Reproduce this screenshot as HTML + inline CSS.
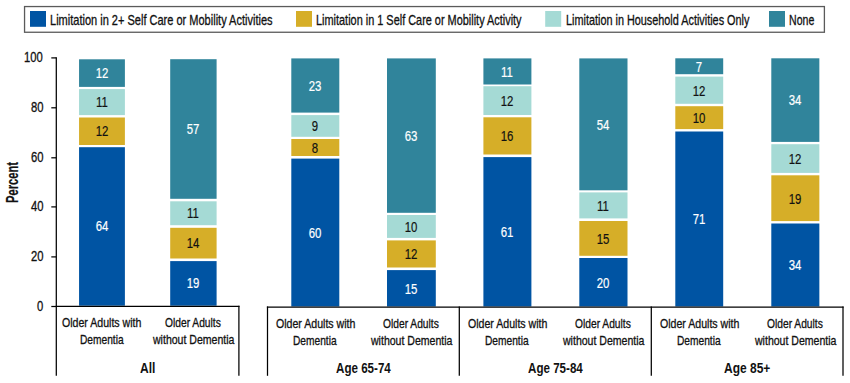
<!DOCTYPE html>
<html><head><meta charset="utf-8"><style>
html,body{margin:0;padding:0;background:#fff;}
body{width:850px;height:383px;position:relative;overflow:hidden;font-family:'Liberation Sans', sans-serif;}
</style></head><body>
<svg style="position:absolute;left:0;top:0" width="850" height="383" viewBox="0 0 850 383"><rect x="24.55" y="6.55" width="799.85" height="25.7" fill="none" stroke="#5a5a5a" stroke-width="1.3"/><rect x="30.00" y="11.00" width="16.00" height="15.80" fill="#0054a3"/><rect x="296.00" y="11.00" width="16.00" height="15.80" fill="#d6ae28"/><rect x="545.20" y="11.00" width="16.00" height="15.80" fill="#a5dad5"/><rect x="769.00" y="11.00" width="16.00" height="15.80" fill="#30849b"/><rect x="79.06" y="59.30" width="45.84" height="27.60" fill="#30849b"/><rect x="79.06" y="89.10" width="45.84" height="26.00" fill="#a5dad5"/><rect x="79.06" y="117.50" width="45.84" height="27.50" fill="#d6ae28"/><rect x="79.06" y="147.20" width="45.84" height="158.50" fill="#0054a3"/><rect x="170.20" y="59.20" width="46.40" height="139.60" fill="#30849b"/><rect x="170.20" y="201.30" width="46.40" height="23.90" fill="#a5dad5"/><rect x="170.20" y="227.80" width="46.40" height="30.70" fill="#d6ae28"/><rect x="170.20" y="261.10" width="46.40" height="44.60" fill="#0054a3"/><rect x="291.30" y="58.40" width="48.00" height="54.20" fill="#30849b"/><rect x="291.30" y="115.10" width="48.00" height="21.70" fill="#a5dad5"/><rect x="291.30" y="139.00" width="48.00" height="17.00" fill="#d6ae28"/><rect x="291.30" y="158.60" width="48.00" height="147.90" fill="#0054a3"/><rect x="387.00" y="58.40" width="48.80" height="154.40" fill="#30849b"/><rect x="387.00" y="215.00" width="48.80" height="22.90" fill="#a5dad5"/><rect x="387.00" y="240.40" width="48.80" height="27.10" fill="#d6ae28"/><rect x="387.00" y="270.10" width="48.80" height="36.40" fill="#0054a3"/><rect x="483.40" y="58.40" width="48.00" height="26.10" fill="#30849b"/><rect x="483.40" y="86.20" width="48.00" height="28.80" fill="#a5dad5"/><rect x="483.40" y="117.30" width="48.00" height="37.20" fill="#d6ae28"/><rect x="483.40" y="157.10" width="48.00" height="149.40" fill="#0054a3"/><rect x="579.30" y="58.40" width="48.20" height="131.90" fill="#30849b"/><rect x="579.30" y="192.40" width="48.20" height="26.00" fill="#a5dad5"/><rect x="579.30" y="221.00" width="48.20" height="34.80" fill="#d6ae28"/><rect x="579.30" y="258.00" width="48.20" height="48.50" fill="#0054a3"/><rect x="675.30" y="58.30" width="47.90" height="15.90" fill="#30849b"/><rect x="675.30" y="76.60" width="47.90" height="27.20" fill="#a5dad5"/><rect x="675.30" y="106.20" width="47.90" height="22.90" fill="#d6ae28"/><rect x="675.30" y="131.50" width="47.90" height="175.00" fill="#0054a3"/><rect x="771.30" y="58.30" width="48.05" height="83.60" fill="#30849b"/><rect x="771.30" y="144.20" width="48.05" height="28.70" fill="#a5dad5"/><rect x="771.30" y="175.30" width="48.05" height="45.80" fill="#d6ae28"/><rect x="771.30" y="223.50" width="48.05" height="83.00" fill="#0054a3"/><line x1="56.30" y1="57.30" x2="56.30" y2="375.80" stroke="#000" stroke-width="1.25"/><line x1="51.30" y1="57.90" x2="56.30" y2="57.90" stroke="#000" stroke-width="1.25"/><line x1="51.30" y1="107.80" x2="56.30" y2="107.80" stroke="#000" stroke-width="1.25"/><line x1="51.30" y1="157.80" x2="56.30" y2="157.80" stroke="#000" stroke-width="1.25"/><line x1="51.30" y1="206.90" x2="56.30" y2="206.90" stroke="#000" stroke-width="1.25"/><line x1="51.30" y1="256.90" x2="56.30" y2="256.90" stroke="#000" stroke-width="1.25"/><line x1="51.30" y1="306.50" x2="56.30" y2="306.50" stroke="#000" stroke-width="1.25"/><line x1="55.70" y1="306.40" x2="239.50" y2="306.40" stroke="#000" stroke-width="1.25"/><line x1="266.90" y1="307.10" x2="843.60" y2="307.10" stroke="#000" stroke-width="1.25"/><line x1="238.90" y1="305.80" x2="238.90" y2="375.80" stroke="#000" stroke-width="1.25"/><line x1="267.50" y1="306.50" x2="267.50" y2="375.80" stroke="#000" stroke-width="1.25"/><line x1="459.30" y1="306.50" x2="459.30" y2="375.80" stroke="#000" stroke-width="1.25"/><line x1="651.30" y1="306.50" x2="651.30" y2="375.80" stroke="#000" stroke-width="1.25"/><line x1="843.00" y1="306.50" x2="843.00" y2="375.80" stroke="#000" stroke-width="1.25"/></svg>
<div style="position:absolute;left:71.98px;top:64.60px;width:60px;text-align:center;font-size:15px;line-height:15px;color:#fff;transform:scaleX(0.76);-webkit-text-stroke:0.2px #fff">12</div>
<div style="position:absolute;left:71.98px;top:93.60px;width:60px;text-align:center;font-size:15px;line-height:15px;color:#111;transform:scaleX(0.76);-webkit-text-stroke:0.2px #111">11</div>
<div style="position:absolute;left:71.98px;top:122.75px;width:60px;text-align:center;font-size:15px;line-height:15px;color:#111;transform:scaleX(0.76);-webkit-text-stroke:0.2px #111">12</div>
<div style="position:absolute;left:71.98px;top:217.95px;width:60px;text-align:center;font-size:15px;line-height:15px;color:#fff;transform:scaleX(0.76);-webkit-text-stroke:0.2px #fff">64</div>
<div style="position:absolute;left:163.40px;top:120.50px;width:60px;text-align:center;font-size:15px;line-height:15px;color:#fff;transform:scaleX(0.76);-webkit-text-stroke:0.2px #fff">57</div>
<div style="position:absolute;left:163.40px;top:204.75px;width:60px;text-align:center;font-size:15px;line-height:15px;color:#111;transform:scaleX(0.76);-webkit-text-stroke:0.2px #111">11</div>
<div style="position:absolute;left:163.40px;top:234.65px;width:60px;text-align:center;font-size:15px;line-height:15px;color:#111;transform:scaleX(0.76);-webkit-text-stroke:0.2px #111">14</div>
<div style="position:absolute;left:163.40px;top:274.90px;width:60px;text-align:center;font-size:15px;line-height:15px;color:#fff;transform:scaleX(0.76);-webkit-text-stroke:0.2px #fff">19</div>
<div style="position:absolute;left:285.30px;top:77.80px;width:60px;text-align:center;font-size:15px;line-height:15px;color:#fff;transform:scaleX(0.76);-webkit-text-stroke:0.2px #fff">23</div>
<div style="position:absolute;left:285.30px;top:118.25px;width:60px;text-align:center;font-size:15px;line-height:15px;color:#111;transform:scaleX(0.76);-webkit-text-stroke:0.2px #111">9</div>
<div style="position:absolute;left:285.30px;top:139.80px;width:60px;text-align:center;font-size:15px;line-height:15px;color:#111;transform:scaleX(0.76);-webkit-text-stroke:0.2px #111">8</div>
<div style="position:absolute;left:285.30px;top:224.85px;width:60px;text-align:center;font-size:15px;line-height:15px;color:#fff;transform:scaleX(0.76);-webkit-text-stroke:0.2px #fff">60</div>
<div style="position:absolute;left:381.40px;top:127.90px;width:60px;text-align:center;font-size:15px;line-height:15px;color:#fff;transform:scaleX(0.76);-webkit-text-stroke:0.2px #fff">63</div>
<div style="position:absolute;left:381.40px;top:218.75px;width:60px;text-align:center;font-size:15px;line-height:15px;color:#111;transform:scaleX(0.76);-webkit-text-stroke:0.2px #111">10</div>
<div style="position:absolute;left:381.40px;top:246.25px;width:60px;text-align:center;font-size:15px;line-height:15px;color:#111;transform:scaleX(0.76);-webkit-text-stroke:0.2px #111">12</div>
<div style="position:absolute;left:381.40px;top:280.60px;width:60px;text-align:center;font-size:15px;line-height:15px;color:#fff;transform:scaleX(0.76);-webkit-text-stroke:0.2px #fff">15</div>
<div style="position:absolute;left:477.40px;top:63.75px;width:60px;text-align:center;font-size:15px;line-height:15px;color:#fff;transform:scaleX(0.76);-webkit-text-stroke:0.2px #fff">11</div>
<div style="position:absolute;left:477.40px;top:92.90px;width:60px;text-align:center;font-size:15px;line-height:15px;color:#111;transform:scaleX(0.76);-webkit-text-stroke:0.2px #111">12</div>
<div style="position:absolute;left:477.40px;top:128.20px;width:60px;text-align:center;font-size:15px;line-height:15px;color:#111;transform:scaleX(0.76);-webkit-text-stroke:0.2px #111">16</div>
<div style="position:absolute;left:477.40px;top:224.10px;width:60px;text-align:center;font-size:15px;line-height:15px;color:#fff;transform:scaleX(0.76);-webkit-text-stroke:0.2px #fff">61</div>
<div style="position:absolute;left:573.40px;top:116.65px;width:60px;text-align:center;font-size:15px;line-height:15px;color:#fff;transform:scaleX(0.76);-webkit-text-stroke:0.2px #fff">54</div>
<div style="position:absolute;left:573.40px;top:197.70px;width:60px;text-align:center;font-size:15px;line-height:15px;color:#111;transform:scaleX(0.76);-webkit-text-stroke:0.2px #111">11</div>
<div style="position:absolute;left:573.40px;top:230.70px;width:60px;text-align:center;font-size:15px;line-height:15px;color:#111;transform:scaleX(0.76);-webkit-text-stroke:0.2px #111">15</div>
<div style="position:absolute;left:573.40px;top:274.55px;width:60px;text-align:center;font-size:15px;line-height:15px;color:#fff;transform:scaleX(0.76);-webkit-text-stroke:0.2px #fff">20</div>
<div style="position:absolute;left:669.25px;top:58.55px;width:60px;text-align:center;font-size:15px;line-height:15px;color:#fff;transform:scaleX(0.76);-webkit-text-stroke:0.2px #fff">7</div>
<div style="position:absolute;left:669.25px;top:82.50px;width:60px;text-align:center;font-size:15px;line-height:15px;color:#111;transform:scaleX(0.76);-webkit-text-stroke:0.2px #111">12</div>
<div style="position:absolute;left:669.25px;top:109.95px;width:60px;text-align:center;font-size:15px;line-height:15px;color:#111;transform:scaleX(0.76);-webkit-text-stroke:0.2px #111">10</div>
<div style="position:absolute;left:669.25px;top:211.30px;width:60px;text-align:center;font-size:15px;line-height:15px;color:#fff;transform:scaleX(0.76);-webkit-text-stroke:0.2px #fff">71</div>
<div style="position:absolute;left:765.33px;top:92.40px;width:60px;text-align:center;font-size:15px;line-height:15px;color:#fff;transform:scaleX(0.76);-webkit-text-stroke:0.2px #fff">34</div>
<div style="position:absolute;left:765.33px;top:150.85px;width:60px;text-align:center;font-size:15px;line-height:15px;color:#111;transform:scaleX(0.76);-webkit-text-stroke:0.2px #111">12</div>
<div style="position:absolute;left:765.33px;top:190.50px;width:60px;text-align:center;font-size:15px;line-height:15px;color:#111;transform:scaleX(0.76);-webkit-text-stroke:0.2px #111">19</div>
<div style="position:absolute;left:765.33px;top:257.30px;width:60px;text-align:center;font-size:15px;line-height:15px;color:#fff;transform:scaleX(0.76);-webkit-text-stroke:0.2px #fff">34</div>
<div style="position:absolute;left:50.31px;top:13.00px;font-size:14.6px;font-weight:400;line-height:14.6px;white-space:nowrap;color:#111;transform-origin:0 0;transform:scaleX(0.7549);-webkit-text-stroke:0.32px #111">Limitation in 2+ Self Care or Mobility Activities</div>
<div style="position:absolute;left:316.32px;top:13.00px;font-size:14.6px;font-weight:400;line-height:14.6px;white-space:nowrap;color:#111;transform-origin:0 0;transform:scaleX(0.7477);-webkit-text-stroke:0.32px #111">Limitation in 1 Self Care or Mobility Activity</div>
<div style="position:absolute;left:565.93px;top:13.00px;font-size:14.6px;font-weight:400;line-height:14.6px;white-space:nowrap;color:#111;transform-origin:0 0;transform:scaleX(0.7437);-webkit-text-stroke:0.32px #111">Limitation in Household Activities Only</div>
<div style="position:absolute;left:788.95px;top:13.00px;font-size:14.6px;font-weight:400;line-height:14.6px;white-space:nowrap;color:#111;transform-origin:0 0;transform:scaleX(0.7239);-webkit-text-stroke:0.32px #111">None</div>
<div style="position:absolute;left:62.41px;top:316.30px;font-size:13.4px;font-weight:400;line-height:13.4px;white-space:nowrap;color:#111;transform-origin:0 0;transform:scaleX(0.7898);-webkit-text-stroke:0.32px #111">Older Adults with</div>
<div style="position:absolute;left:79.85px;top:333.00px;font-size:13.4px;font-weight:400;line-height:13.4px;white-space:nowrap;color:#111;transform-origin:0 0;transform:scaleX(0.7607);-webkit-text-stroke:0.32px #111">Dementia</div>
<div style="position:absolute;left:165.38px;top:316.30px;font-size:13.4px;font-weight:400;line-height:13.4px;white-space:nowrap;color:#111;transform-origin:0 0;transform:scaleX(0.7650);-webkit-text-stroke:0.32px #111">Older Adults</div>
<div style="position:absolute;left:152.66px;top:333.00px;font-size:13.4px;font-weight:400;line-height:13.4px;white-space:nowrap;color:#111;transform-origin:0 0;transform:scaleX(0.7873);-webkit-text-stroke:0.32px #111">without Dementia</div>
<div style="position:absolute;left:275.76px;top:317.10px;font-size:13.4px;font-weight:400;line-height:13.4px;white-space:nowrap;color:#111;transform-origin:0 0;transform:scaleX(0.7898);-webkit-text-stroke:0.32px #111">Older Adults with</div>
<div style="position:absolute;left:293.20px;top:333.80px;font-size:13.4px;font-weight:400;line-height:13.4px;white-space:nowrap;color:#111;transform-origin:0 0;transform:scaleX(0.7607);-webkit-text-stroke:0.32px #111">Dementia</div>
<div style="position:absolute;left:383.38px;top:317.10px;font-size:13.4px;font-weight:400;line-height:13.4px;white-space:nowrap;color:#111;transform-origin:0 0;transform:scaleX(0.7650);-webkit-text-stroke:0.32px #111">Older Adults</div>
<div style="position:absolute;left:370.66px;top:333.80px;font-size:13.4px;font-weight:400;line-height:13.4px;white-space:nowrap;color:#111;transform-origin:0 0;transform:scaleX(0.7873);-webkit-text-stroke:0.32px #111">without Dementia</div>
<div style="position:absolute;left:467.81px;top:317.10px;font-size:13.4px;font-weight:400;line-height:13.4px;white-space:nowrap;color:#111;transform-origin:0 0;transform:scaleX(0.7898);-webkit-text-stroke:0.32px #111">Older Adults with</div>
<div style="position:absolute;left:485.25px;top:333.80px;font-size:13.4px;font-weight:400;line-height:13.4px;white-space:nowrap;color:#111;transform-origin:0 0;transform:scaleX(0.7607);-webkit-text-stroke:0.32px #111">Dementia</div>
<div style="position:absolute;left:575.38px;top:317.10px;font-size:13.4px;font-weight:400;line-height:13.4px;white-space:nowrap;color:#111;transform-origin:0 0;transform:scaleX(0.7650);-webkit-text-stroke:0.32px #111">Older Adults</div>
<div style="position:absolute;left:562.66px;top:333.80px;font-size:13.4px;font-weight:400;line-height:13.4px;white-space:nowrap;color:#111;transform-origin:0 0;transform:scaleX(0.7873);-webkit-text-stroke:0.32px #111">without Dementia</div>
<div style="position:absolute;left:659.66px;top:317.10px;font-size:13.4px;font-weight:400;line-height:13.4px;white-space:nowrap;color:#111;transform-origin:0 0;transform:scaleX(0.7898);-webkit-text-stroke:0.32px #111">Older Adults with</div>
<div style="position:absolute;left:677.10px;top:333.80px;font-size:13.4px;font-weight:400;line-height:13.4px;white-space:nowrap;color:#111;transform-origin:0 0;transform:scaleX(0.7607);-webkit-text-stroke:0.32px #111">Dementia</div>
<div style="position:absolute;left:767.33px;top:317.10px;font-size:13.4px;font-weight:400;line-height:13.4px;white-space:nowrap;color:#111;transform-origin:0 0;transform:scaleX(0.7650);-webkit-text-stroke:0.32px #111">Older Adults</div>
<div style="position:absolute;left:754.61px;top:333.80px;font-size:13.4px;font-weight:400;line-height:13.4px;white-space:nowrap;color:#111;transform-origin:0 0;transform:scaleX(0.7873);-webkit-text-stroke:0.32px #111">without Dementia</div>
<div style="position:absolute;left:140.04px;top:360.90px;font-size:14.5px;font-weight:700;line-height:14.5px;white-space:nowrap;color:#111;transform-origin:0 0;transform:scaleX(0.8294);-webkit-text-stroke:0px #111">All</div>
<div style="position:absolute;left:335.55px;top:360.90px;font-size:14.5px;font-weight:700;line-height:14.5px;white-space:nowrap;color:#111;transform-origin:0 0;transform:scaleX(0.8000);-webkit-text-stroke:0px #111">Age 65-74</div>
<div style="position:absolute;left:527.70px;top:360.90px;font-size:14.5px;font-weight:700;line-height:14.5px;white-space:nowrap;color:#111;transform-origin:0 0;transform:scaleX(0.8000);-webkit-text-stroke:0px #111">Age 75-84</div>
<div style="position:absolute;left:724.04px;top:360.90px;font-size:14.5px;font-weight:700;line-height:14.5px;white-space:nowrap;color:#111;transform-origin:0 0;transform:scaleX(0.8273);-webkit-text-stroke:0px #111">Age 85+</div>
<div style="position:absolute;left:24.46px;top:50.30px;font-size:14.6px;font-weight:400;line-height:14.6px;white-space:nowrap;color:#111;transform-origin:0 0;transform:scaleX(0.7700);-webkit-text-stroke:0.32px #111">100</div>
<div style="position:absolute;left:30.62px;top:100.30px;font-size:14.6px;font-weight:400;line-height:14.6px;white-space:nowrap;color:#111;transform-origin:0 0;transform:scaleX(0.7700);-webkit-text-stroke:0.32px #111">80</div>
<div style="position:absolute;left:30.62px;top:150.30px;font-size:14.6px;font-weight:400;line-height:14.6px;white-space:nowrap;color:#111;transform-origin:0 0;transform:scaleX(0.7700);-webkit-text-stroke:0.32px #111">60</div>
<div style="position:absolute;left:30.62px;top:199.30px;font-size:14.6px;font-weight:400;line-height:14.6px;white-space:nowrap;color:#111;transform-origin:0 0;transform:scaleX(0.7700);-webkit-text-stroke:0.32px #111">40</div>
<div style="position:absolute;left:30.62px;top:249.30px;font-size:14.6px;font-weight:400;line-height:14.6px;white-space:nowrap;color:#111;transform-origin:0 0;transform:scaleX(0.7700);-webkit-text-stroke:0.32px #111">20</div>
<div style="position:absolute;left:36.97px;top:299.00px;font-size:14.6px;font-weight:400;line-height:14.6px;white-space:nowrap;color:#111;transform-origin:0 0;transform:scaleX(0.7700);-webkit-text-stroke:0.32px #111">0</div>
<div style="position:absolute;left:5.10px;top:203.10px;font-size:16px;font-weight:700;line-height:16px;white-space:nowrap;color:#111;transform-origin:0 0;transform:rotate(-90deg) scaleX(0.6974);-webkit-text-stroke:0.2px #111">Percent</div>
</body></html>
